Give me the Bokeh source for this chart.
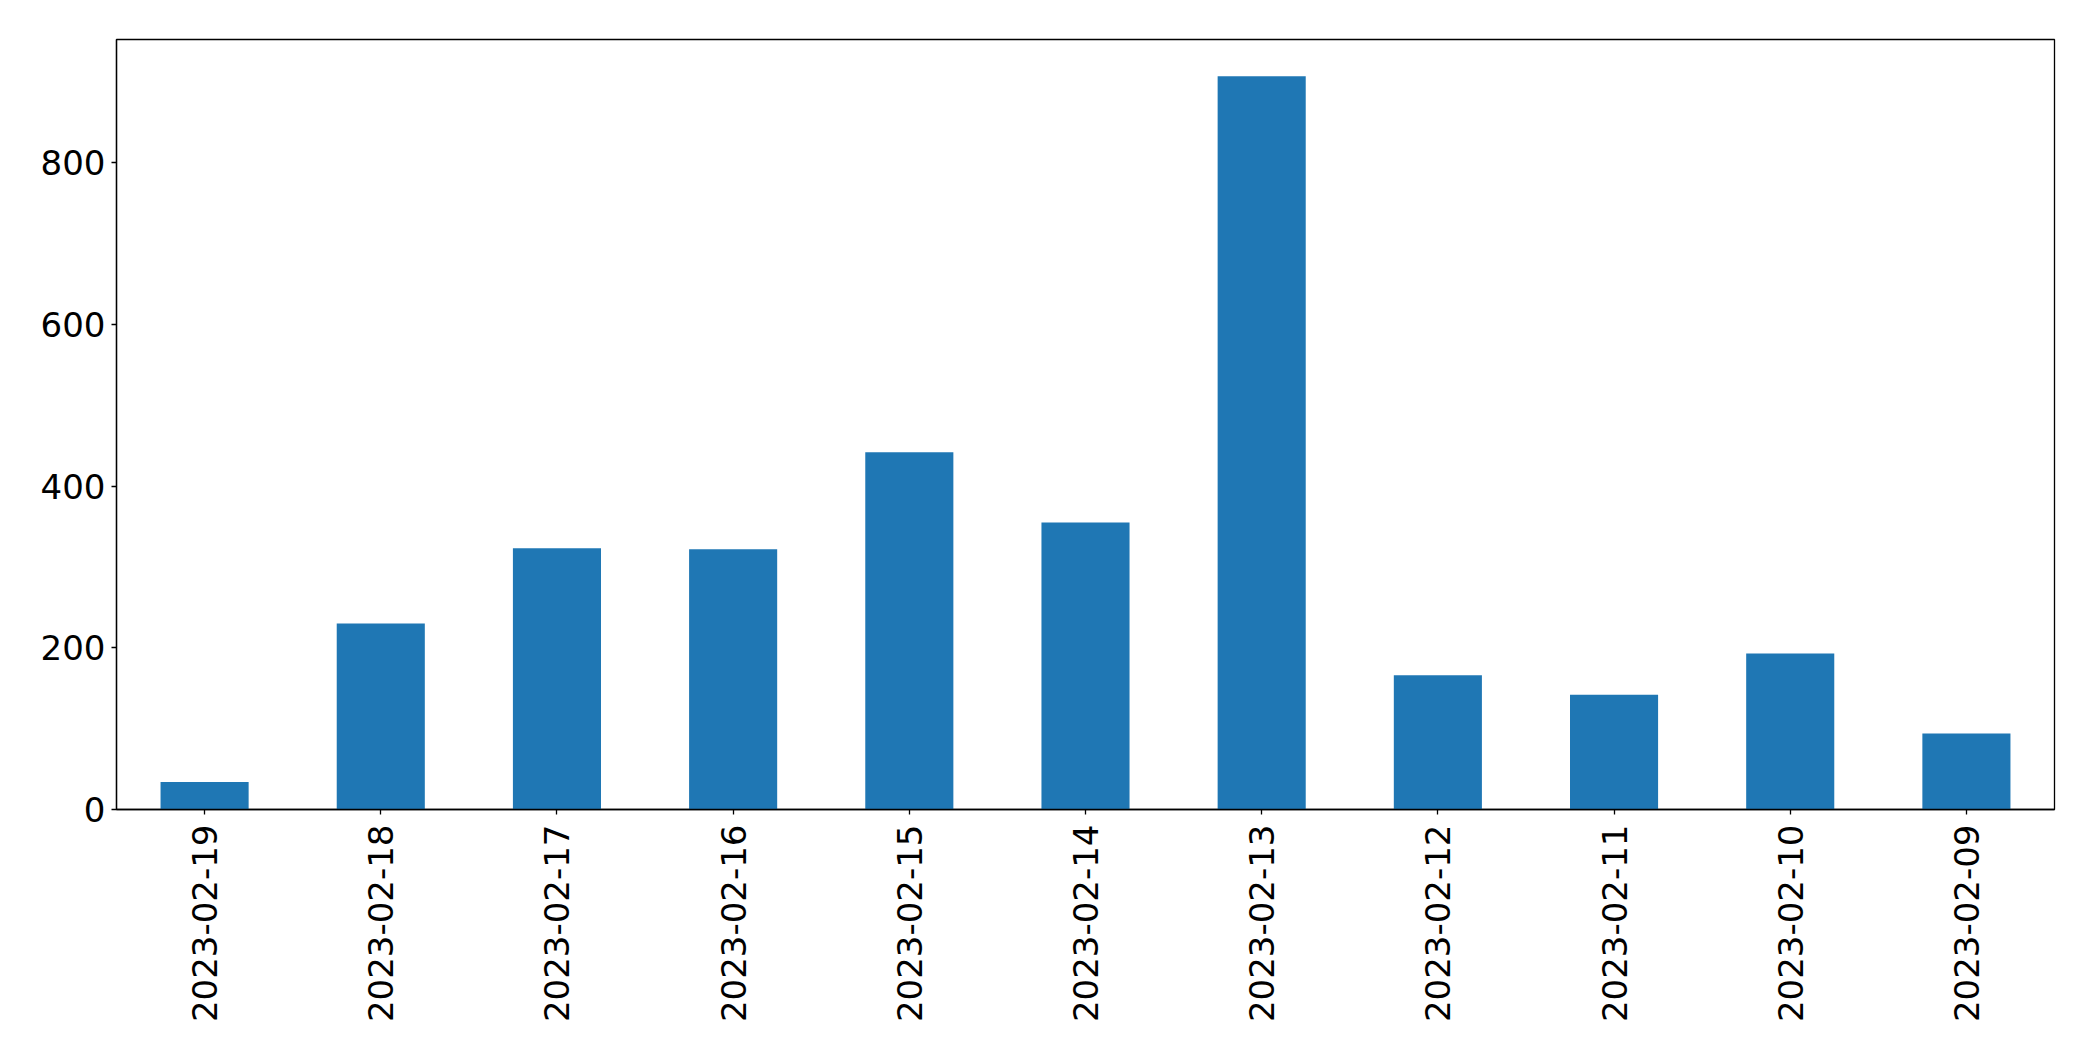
from bokeh.plotting import figure
from bokeh.models import FactorRange, Range1d, FixedTicker, ColumnDataSource
from bokeh.embed import file_html
from bokeh.resources import INLINE
import math

dates = ["2023-02-19", "2023-02-18", "2023-02-17", "2023-02-16", "2023-02-15",
         "2023-02-14", "2023-02-13", "2023-02-12", "2023-02-11", "2023-02-10",
         "2023-02-09"]
counts = [34, 230, 323, 322, 442, 355, 907, 166, 142, 193, 94]
y_ticks = [0, 200, 400, 600, 800]

src = ColumnDataSource(dict(date=dates, count=counts))

p = figure(
    x_range=FactorRange(*dates, range_padding=0),
    y_range=Range1d(0, max(counts) * 1.05),
    frame_width=1938, frame_height=770,
    min_border_left=116, min_border_right=31,
    min_border_top=39, min_border_bottom=236,
    output_backend="svg", toolbar_location=None,
)
p.vbar(x="date", top="count", width=0.5, source=src,
       fill_color="#1f77b4", line_color=None)

p.xgrid.visible = False
p.ygrid.visible = False
p.outline_line_color = "black"
p.outline_line_width = 1.3
p.outline_line_alpha = 1.0

for ax in (p.xaxis, p.yaxis):
    ax.axis_line_color = "black"
    ax.axis_line_width = 1.3
    ax.major_tick_line_color = "black"
    ax.major_tick_line_width = 1.3
    ax.major_tick_out = 5
    ax.major_tick_in = 0
    ax.minor_tick_line_color = None
    ax.major_label_text_font = "DejaVu Sans"
    ax.major_label_text_font_size = "34px"
    ax.major_label_text_color = "black"

p.yaxis.ticker = FixedTicker(ticks=y_ticks)
p.yaxis.major_label_standoff = 6
p.xaxis.major_label_orientation = math.pi / 2
p.xaxis.major_label_standoff = 10

open("out.html", "w").write(file_html(p, INLINE))
